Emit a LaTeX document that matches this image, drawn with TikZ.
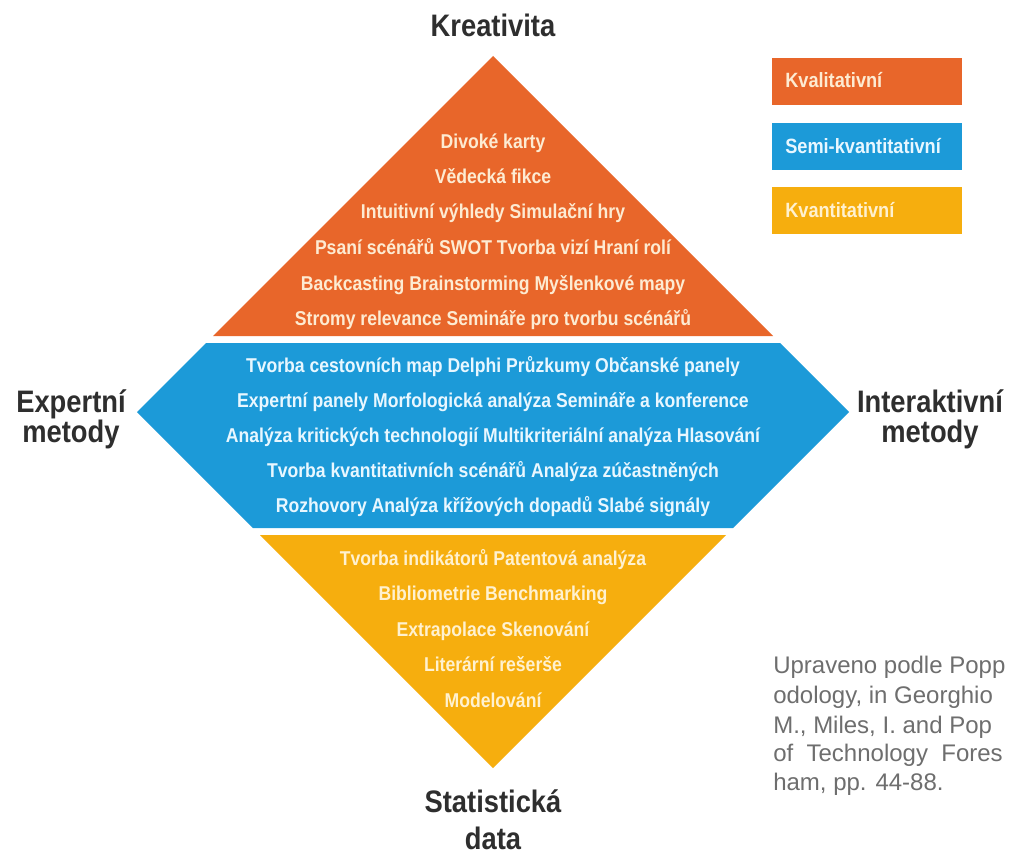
\documentclass[tikz,border=0pt]{standalone}
\usepackage{fontspec}
\newfontfamily\condfont[FakeStretch=0.88]{Liberation Sans}
\newfontfamily\citefont{Liberation Sans}
\definecolor{kOrange}{HTML}{E8662A}
\definecolor{kBlue}{HTML}{1C9AD8}
\definecolor{kYellow}{HTML}{F6AE0E}
\definecolor{kLabel}{HTML}{2E2E2E}
\definecolor{kCite}{HTML}{6E6E6E}
\definecolor{tOrange}{HTML}{FDEBD2}
\definecolor{tBlue}{HTML}{E8F7FF}
\definecolor{tYellow}{HTML}{FFF1CF}
\begin{document}
\begin{tikzpicture}[x=0.75pt,y=-0.75pt,
  intext/.style={font=\condfont\bfseries\fontsize{15}{18}\selectfont, anchor=base, inner sep=0pt},
  axislabel/.style={font=\condfont\bfseries\fontsize{23.3}{26}\selectfont, text=kLabel, anchor=base, inner sep=0pt},
  legbox/.style={inner sep=0pt, minimum width=142.5pt, minimum height=35pt, anchor=north west},
  legtext/.style={font=\condfont\bfseries\fontsize{15.5}{18}\selectfont, anchor=base west, inner sep=0pt},
  citetext/.style={font=\citefont\fontsize{18}{22}\selectfont, text=kCite, anchor=base west, inner sep=0pt}]
\useasboundingbox (0,0) rectangle (1015,856);
\fill[white] (0,0) rectangle (1015,856);
\begin{scope}
\clip (0,0) rectangle (1015,856);
% shapes
\fill[kOrange] (493,56) -- (773,336) -- (213,336) -- cycle;
\fill[kBlue] (206,343) -- (780,343) -- (849,412) -- (733,528) -- (253,528) -- (137,412) -- cycle;
\fill[kYellow] (260,535) -- (726,535) -- (493,768) -- cycle;

% orange texts
\node[intext, text=tOrange] (o1) at (493,148) {Divoké karty};
\node[intext, text=tOrange] (o2) at (493,183.5) {Vědecká fikce};
\node[intext, text=tOrange] (o3) at (493,219) {Intuitivní výhledy Simulační hry};
\node[intext, text=tOrange] (o4) at (493,254.5) {Psaní scénářů SWOT Tvorba vizí Hraní rolí};
\node[intext, text=tOrange] (o5) at (493,290) {Backcasting Brainstorming Myšlenkové mapy};
\node[intext, text=tOrange] (o6) at (493,325.5) {Stromy relevance Semináře pro tvorbu scénářů};

% blue texts
\node[intext, text=tBlue] (b1) at (493,372) {Tvorba cestovních map Delphi Průzkumy Občanské panely};
\node[intext, text=tBlue] (b2) at (493,407) {Expertní panely Morfologická analýza Semináře a konference};
\node[intext, text=tBlue] (b3) at (493,442) {Analýza kritických technologií Multikriteriální analýza Hlasování};
\node[intext, text=tBlue] (b4) at (493,477) {Tvorba kvantitativních scénářů Analýza zúčastněných};
\node[intext, text=tBlue] (b5) at (493,512) {Rozhovory Analýza křížových dopadů Slabé signály};

% yellow texts
\node[intext, text=tYellow] (y1) at (493,565) {Tvorba indikátorů Patentová analýza};
\node[intext, text=tYellow] (y2) at (493,600.5) {Bibliometrie Benchmarking};
\node[intext, text=tYellow] (y3) at (493,636) {Extrapolace Skenování};
\node[intext, text=tYellow] (y4) at (493,671.5) {Literární rešerše};
\node[intext, text=tYellow] (y5) at (493,707) {Modelování};

% axis labels
\node[axislabel] (top) at (493,37) {Kreativita};
\node[axislabel] (leftA) at (71,412) {Expertní};
\node[axislabel] (leftB) at (71,442) {metody};
\node[axislabel] (rightA) at (930,412) {Interaktivní};
\node[axislabel] (rightB) at (930,442) {metody};
\node[axislabel] (botA) at (493,812) {Statistická};
\node[axislabel] (botB) at (493,849) {data};

% legend
\node[legbox, fill=kOrange] (lg1) at (772,58) {};
\node[legbox, fill=kBlue] (lg2) at (772,123) {};
\node[legbox, fill=kYellow] (lg3) at (772,187) {};
\node[legtext, text=tOrange] (lt1) at (785,88) {Kvalitativní};
\node[legtext, text=tBlue] (lt2) at (785,153) {Semi-kvantitativní};
\node[legtext, text=tYellow] (lt3) at (785,217) {Kvantitativní};

% citation (as far as the picture shows it)
\node[citetext] (c1) at (773,673) {Upraveno podle Popp};
\node[citetext] (c2) at (773,703) {odology, in Georghio};
\node[citetext] (c3) at (773,733) {M., Miles, I. and Pop};
\node[citetext] (c4) at (773,761) {of\ \ Technology\ \ Fores};
\node[citetext] (c5) at (773,790) {ham, pp. 44-88.};
\end{scope}
\end{tikzpicture}
\end{document}
